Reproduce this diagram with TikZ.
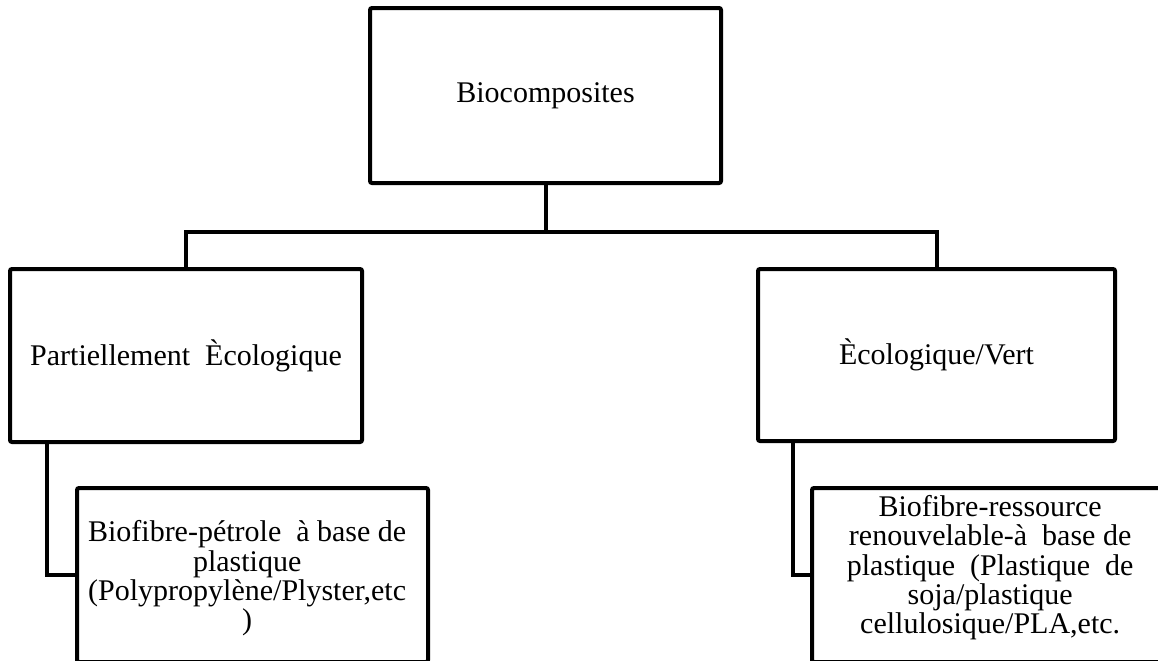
\documentclass[tikz,border=0pt]{standalone}
\usepackage{fontspec}
\setmainfont{Liberation Serif}
\usetikzlibrary{positioning,calc}

\begin{document}
\begin{tikzpicture}[x=0.75pt,y=-0.75pt,line width=3pt,
		box/.style={draw,rounded corners=1.5pt,inner sep=0pt,outer sep=0pt,align=center,font=\fontsize{22.5}{22}\selectfont},
		txt/.style={inner sep=0pt,outer sep=0pt,align=center,font=\fontsize{22.5}{22}\selectfont}]
		\useasboundingbox (0,0) rectangle (1158,661);
		\clip (0,0) rectangle (1158,661);
		\node[box,minimum width=263.25pt,minimum height=131.25pt] (bio) at (545.5,95.5) {Biocomposites};
		\node[box,minimum width=264pt,minimum height=129.75pt] (part) at (186,355.5) {Partiellement\ \ Ècologique};
		\node[box,minimum width=267.75pt,minimum height=129pt] (eco) at (936.5,355) {Ècologique/Vert};
		\node[box,minimum width=263.25pt,minimum height=130.5pt] (pfib) at (252.5,575) {};
		\node[box,minimum width=263.25pt,minimum height=130.5pt] (rfib) at (987.5,575) {};
		\node[txt,below=24.5pt of pfib.north,xshift=-4pt] (pfibtxt) {Biofibre-pétrole\ \ à base de\\plastique\\(Polypropylène/Plyster,etc\\)};
		\node[txt,below=5.5pt of rfib.north,xshift=2pt] (rfibtxt) {Biofibre-ressource\\renouvelable-à\ \ base de\\plastique\ \ (Plastique\ \ de\\soja/plastique\\cellulosique/PLA,etc.};
		% connectors
		\coordinate (bus) at (bio.south |- 0,232);
		\draw (bio.south) -- (bus);
		\draw (part.north) |- (bus) -| (eco.north);
		\draw ($(part.south west)+(37,0)$) |- (pfib.west);
		\draw ($(eco.south west)+(35,0)$) |- (rfib.west);
	\end{tikzpicture}
\end{document}
